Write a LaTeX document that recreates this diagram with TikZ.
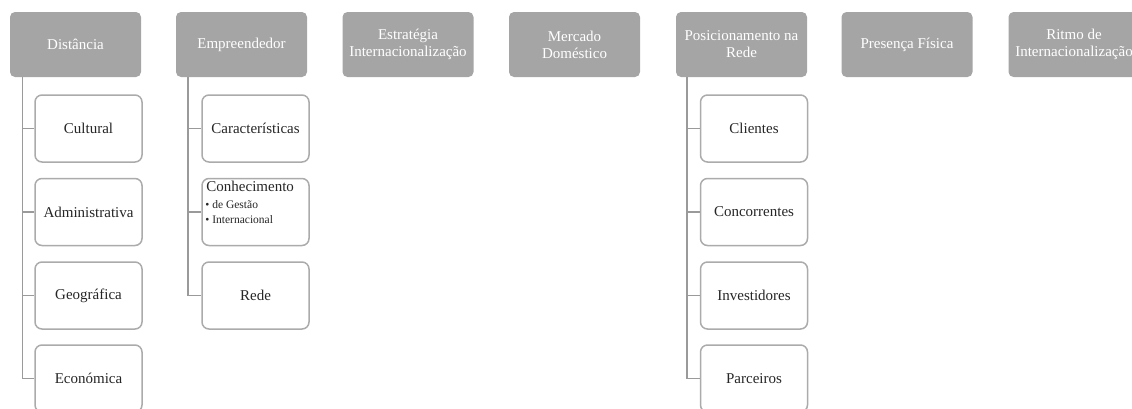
\documentclass[tikz,border=0pt]{standalone}
\usepackage{fontspec}
\setmainfont{Liberation Serif}
\usetikzlibrary{calc}
\definecolor{parentgray}{HTML}{A5A5A5}
\definecolor{linegray}{HTML}{9A9A9A}
\definecolor{childline}{HTML}{ABABAB}
\tikzset{
  parentbox/.style={draw=none, fill=parentgray, rounded corners=5pt, minimum width=131pt, minimum height=65pt, inner sep=0pt, text=white, align=center, font=\fontsize{15}{17}\selectfont},
  childbox/.style={draw=childline, line width=1.5pt, fill=white, rounded corners=7pt, minimum width=107pt, minimum height=67pt, inner sep=0pt, text=black!85, align=center, font=\fontsize{15}{16}\selectfont},
  conn/.style={draw=linegray, line width=1.5pt},
}
\begin{document}
\begin{tikzpicture}[x=1pt,y=-1pt]
\useasboundingbox (0,0) rectangle (1132,408);
\clip (0,0) rectangle (1132,408);
% parents
\node[parentbox] (dist) at (75.5,44.5) {Distância};
\node[parentbox] (empr) at (241.5,44.5) {Empreendedor};
\node[parentbox] (estr) at (408,44.5) {Estratégia\\Internacionalização};
\node[parentbox] (merc) at (574.5,44.5) {Mercado\\Doméstico};
\node[parentbox] (posi) at (741.5,44.5) {Posicionamento na\\Rede};
\node[parentbox] (pres) at (907,44.5) {Presença Física};
\node[parentbox] (ritm) at (1074,44.5) {Ritmo de\\Internacionalização};
% Distancia children
\node[childbox] (cult) at (88.5,128.5) {Cultural};
\node[childbox] (admi) at (88.5,212) {Administrativa};
\node[childbox] (geog) at (88.5,295.5) {Geográfica};
\node[childbox] (econ) at (88.5,378.5) {Económica};
% Empreendedor children
\node[childbox] (cara) at (255.5,128.5) {Características};
\node[childbox] (conh) at (255.5,212) {};
\node[anchor=north west, inner sep=0pt, font=\fontsize{15}{15}\selectfont, text=black!85] (conht) at ($(conh.north west)+(5,3)$) {Conhecimento};
\node[anchor=north west, inner sep=0pt, align=left, font=\fontsize{11.5}{15}\selectfont, text=black!85] (conhb) at ($(conh.north west)+(4,23)$) {\textbullet\ de Gestão\\\textbullet\ Internacional};
\node[childbox] (rede) at (255.5,295.5) {Rede};
% Posicionamento children
\node[childbox] (clie) at (754,128.5) {Clientes};
\node[childbox] (conc) at (754,212) {Concorrentes};
\node[childbox] (inve) at (754,295.5) {Investidores};
\node[childbox] (parc) at (754,378.5) {Parceiros};
% connectors
\coordinate (dtop) at ($(dist.south west)+(12.5,0)$);
\coordinate (etop) at ($(empr.south west)+(12,0)$);
\coordinate (ptop) at ($(posi.south west)+(11,0)$);
\draw[conn] (dtop) |- (econ.west);
\foreach \c in {cult,admi,geog} \draw[conn] (dtop) |- (\c.west);
\draw[conn] (etop) |- (rede.west);
\foreach \c in {cara,conh} \draw[conn] (etop) |- (\c.west);
\draw[conn] (ptop) |- (parc.west);
\foreach \c in {clie,conc,inve} \draw[conn] (ptop) |- (\c.west);
\end{tikzpicture}
\end{document}
